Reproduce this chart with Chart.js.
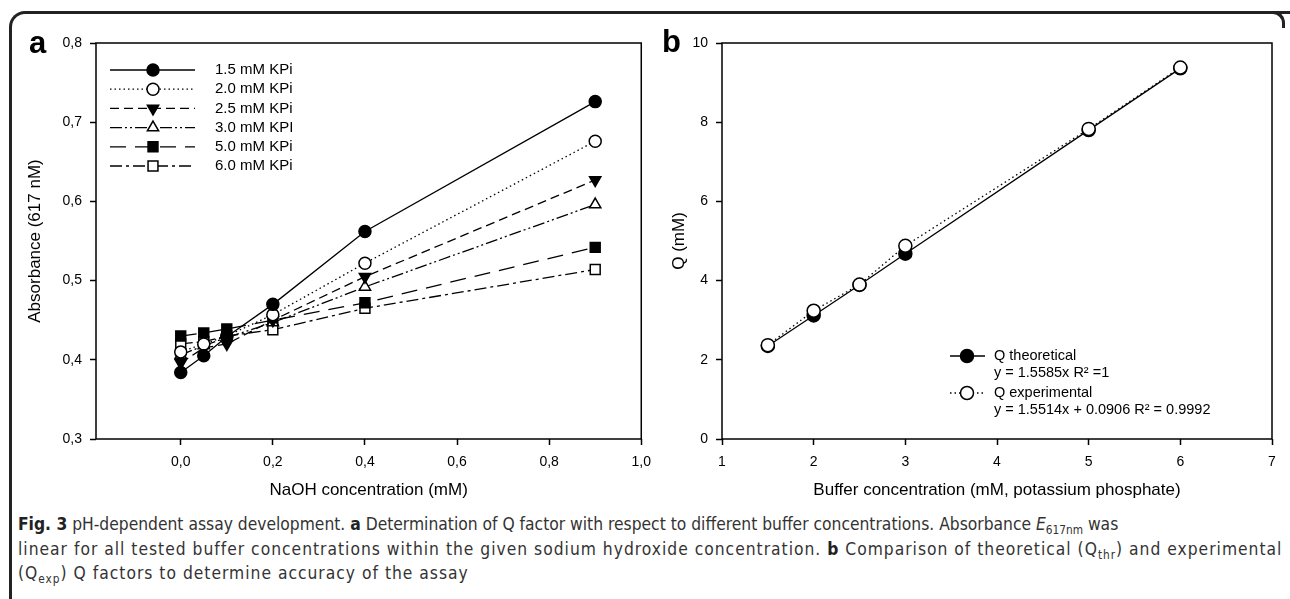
<!DOCTYPE html>
<html>
<head>
<meta charset="utf-8">
<script src="https://cdn.jsdelivr.net/npm/chart.js@4.4.0/dist/chart.umd.min.js"></script>
<style>
html, body { margin: 0; padding: 0; background: #fff; }
body { width: 1290px; height: 599px; position: relative; overflow: hidden; font-family: "Liberation Sans", Arial, sans-serif; }
#frame { position: absolute; left: 9px; top: 11px; width: 1300px; height: 640px; border-top: 3px solid #222; border-left: 3px solid #222; border-top-left-radius: 16px; }
#corner { position: absolute; left: 1266px; top: 11px; width: 16px; height: 14px; border-top: 3px solid #222; border-right: 3px solid #222; border-top-right-radius: 12px; background: #fff; }
canvas { position: absolute; top: 0; }
#ca { left: 0; }
#cb { left: 640px; }
.tag { position: absolute; font-weight: bold; font-size: 31px; color: #000; line-height: 1; }
#cap { position: absolute; left: 18px; top: 512px; font-family: "Liberation Sans Narrow", "DejaVu Sans Condensed", sans-serif; font-size: 17.3px; line-height: 24.5px; color: #333; white-space: nowrap; }
#cap b { color: #222; }
#cap sub { font-size: 0.68em; vertical-align: -0.35em; line-height: 0; }
#cap .wide { letter-spacing: 1px; }
</style>
</head>
<body>
<div id="frame"></div>
<div id="corner"></div>
<canvas id="ca" width="660" height="510"></canvas>
<canvas id="cb" width="650" height="510"></canvas>
<div class="tag" style="left:29px; top:27px;">a</div>
<div class="tag" style="left:662px; top:26px;">b</div>
<div id="cap"><b>Fig. 3</b> pH-dependent assay development. <b>a</b> Determination of Q factor with respect to different buffer concentrations. Absorbance <i>E</i><sub>617nm</sub> was<br><span class="wide">linear for all tested buffer concentrations within the given sodium hydroxide concentration. <b>b</b> Comparison of theoretical (Q<sub>thr</sub>) and experimental</span><br><span class="wide">(Q<sub>exp</sub>) Q factors to determine accuracy of the assay</span></div>
<script>
// Panel a: absorbance vs NaOH
const naohConc = [0, 0.05, 0.1, 0.2, 0.4, 0.9];
const kpi15 = [0.384, 0.405, 0.429, 0.470, 0.562, 0.726];
const kpi20 = [0.410, 0.420, 0.430, 0.457, 0.522, 0.676];
const kpi25 = [0.396, 0.415, 0.420, 0.450, 0.505, 0.627];
const kpi30 = [0.406, 0.418, 0.428, 0.447, 0.492, 0.596];
const kpi50 = [0.430, 0.434, 0.439, 0.450, 0.472, 0.542];
const kpi60 = [0.420, 0.423, 0.430, 0.438, 0.465, 0.514];
const kpiLabels = ['1.5 mM KPi', '2.0 mM KPi', '2.5 mM KPi', '3.0 mM KPI', '5.0 mM KPi', '6.0 mM KPi'];
const xTicksA = [0, 0.2, 0.4, 0.6, 0.8, 1.0];
const yTicksA = [0.3, 0.4, 0.5, 0.6, 0.7, 0.8];

// Panel b: Q vs buffer
const bufferConc = [1.5, 2, 2.5, 3, 5, 6];
const qTheoretical = [2.35, 3.12, 3.89, 4.68, 7.80, 9.36];
const qExperimental = [2.37, 3.24, 3.90, 4.88, 7.83, 9.38];
const qLabels = ['Q theoretical', 'Q experimental'];
const fitLines = ['y = 1.5585x R\u00b2 =1', 'y = 1.5514x + 0.0906 R\u00b2 = 0.9992'];
const xTicksB = [1, 2, 3, 4, 5, 6, 7];
const yTicksB = [0, 2, 4, 6, 8, 10];

const FONT = '"Liberation Sans", Arial, sans-serif';

// cornice del grafico + legenda disegnata a mano
const frameLegend = {
    id: 'frameLegend',
    afterDraw(chart, args, opts) {
        const ctx = chart.ctx;
        const a = chart.chartArea;
        ctx.save();
        ctx.strokeStyle = '#000';
        ctx.lineWidth = 1.5;
        ctx.strokeRect(a.left, a.top, a.right - a.left, a.bottom - a.top);

        ctx.font = opts.font;
        ctx.textBaseline = 'middle';
        let y = opts.y;
        let list = chart.data.datasets.slice();
        if (opts.reverse) list.reverse();
        list.forEach(ds => {
            ctx.strokeStyle = '#000';
            ctx.lineWidth = ds.borderWidth;
            ctx.setLineDash(ds.borderDash || []);
            ctx.beginPath();
            ctx.moveTo(opts.x0, y);
            ctx.lineTo(opts.x1, y);
            ctx.stroke();
            ctx.setLineDash([]);
            ctx.fillStyle = ds.pointBackgroundColor;
            ctx.lineWidth = ds.pointBorderWidth;
            Chart.helpers.drawPoint(ctx, {
                pointStyle: ds.pointStyle,
                radius: ds.pointRadius,
                rotation: ds.pointRotation || 0,
                borderWidth: ds.pointBorderWidth
            }, opts.xm, y);
            ctx.fillStyle = '#000';
            const lines = [ds.label].concat(ds.note ? [ds.note] : []);
            lines.forEach((t, k) => ctx.fillText(t, opts.xt, y + k * opts.lineH));
            y += opts.rowH;
        });
        ctx.restore();
    }
};

function series(label, xs, ys, dash, style, filled, radius, rotation) {
    return {
        label: label,
        data: xs.map((x, i) => ({ x: x, y: ys[i] })),
        borderColor: '#000',
        borderWidth: 1.3,
        borderDash: dash,
        pointStyle: style,
        pointRadius: radius,
        pointRotation: rotation || 0,
        pointBackgroundColor: filled ? '#000' : '#fff',
        pointBorderColor: '#000',
        pointBorderWidth: 1.5,
        tension: 0,
        fill: false
    };
}

function axis(min, max, tickVals, fmt, size, title, titlePad, isY) {
    return {
        type: 'linear',
        min: min,
        max: max,
        afterBuildTicks: s => { s.ticks = tickVals.map(v => ({ value: v })); },
        afterFit: s => { if (isY) s.width = size; else s.height = size; },
        ticks: {
            callback: fmt,
            color: '#000',
            font: { family: FONT, size: 14 },
            padding: isY ? 8 : 9,
            maxRotation: 0,
            autoSkip: false
        },
        grid: {
            drawOnChartArea: false,
            drawTicks: true,
            tickLength: 6,
            tickWidth: 1.5,
            tickColor: '#000'
        },
        border: { display: false },
        title: {
            display: true,
            text: title,
            color: '#000',
            font: { family: FONT, size: 17 },
            padding: titlePad
        }
    };
}

const comma = v => v.toFixed(1).replace('.', ',');

new Chart(document.getElementById('ca'), {
    type: 'line',
    data: {
        datasets: [
            series(kpiLabels[0], naohConc, kpi15, [], 'circle', true, 6),
            series(kpiLabels[1], naohConc, kpi20, [1.5, 3], 'circle', false, 6),
            series(kpiLabels[2], naohConc, kpi25, [9, 5], 'triangle', true, 6.5, 180),
            series(kpiLabels[3], naohConc, kpi30, [12, 3, 2, 3, 2, 3], 'triangle', false, 6.5),
            series(kpiLabels[4], naohConc, kpi50, [16, 9], 'rect', true, 7),
            series(kpiLabels[5], naohConc, kpi60, [12, 4, 3, 4], 'rect', false, 7)
        ]
    },
    options: {
        responsive: false,
        devicePixelRatio: 1,
        animation: false,
        layout: { padding: { top: 43, right: 18, left: 0, bottom: 0 } },
        plugins: {
            legend: { display: false },
            tooltip: { enabled: false },
            frameLegend: { font: '15px ' + FONT, x0: 110, x1: 195, xm: 153, xt: 215, y: 70, rowH: 19.2, lineH: 17 }
        },
        scales: {
            x: axis(-0.184, 1.0, xTicksA, comma, 71, 'NaOH concentration (mM)', { bottom: 9 }, false),
            y: axis(0.3, 0.8, yTicksA, comma, 96, 'Absorbance (617 nM)', { top: 25 }, true)
        }
    },
    plugins: [frameLegend]
});

// experimental first so its open circles sit on top of the filled ones
const qExp = series(qLabels[1], bufferConc, qExperimental, [1.5, 3], 'circle', false, 6.5);
qExp.note = fitLines[1];
const qTheo = series(qLabels[0], bufferConc, qTheoretical, [], 'circle', true, 6.5);
qTheo.note = fitLines[0];

new Chart(document.getElementById('cb'), {
    type: 'line',
    data: { datasets: [qExp, qTheo] },
    options: {
        responsive: false,
        devicePixelRatio: 1,
        animation: false,
        layout: { padding: { top: 43, right: 18, left: 0, bottom: 0 } },
        plugins: {
            legend: { display: false },
            tooltip: { enabled: false },
            frameLegend: { font: '14.5px ' + FONT, x0: 310, x1: 345, xm: 327, xt: 354, y: 356, rowH: 37, lineH: 17, reverse: true }
        },
        scales: {
            x: axis(1, 7, xTicksB, v => String(v), 71, 'Buffer concentration (mM, potassium phosphate)', { bottom: 9 }, false),
            y: axis(0, 10, yTicksB, v => String(v), 82, 'Q (mM)', { top: 29 }, true)
        }
    },
    plugins: [frameLegend]
});
</script>
</body>
</html>
